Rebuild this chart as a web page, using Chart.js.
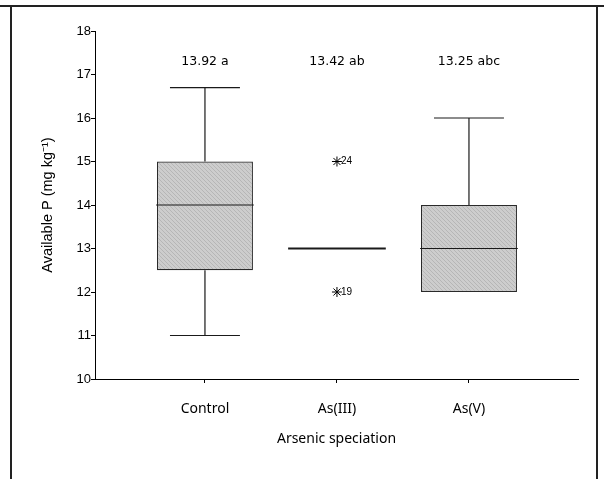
<!DOCTYPE html>
<html>
<head>
<meta charset="utf-8">
<script src="https://cdn.jsdelivr.net/npm/chart.js@4/dist/chart.umd.min.js"></script>
<style>
  html, body { margin: 0; padding: 0; background: #fff; }
  #wrap { position: relative; width: 604px; height: 479px; }
</style>
</head>
<body>
<div id="wrap"><canvas id="c" width="604" height="479"></canvas></div>
<script>
// ---- data ----
const categories = ['Control', 'As(III)', 'As(V)'];
const q1 = [12.5, 13, 12];
const q3 = [15, 13, 14];
const medians = [14, 13, 13];
const whiskerLow = [11, 13, 12];
const whiskerHigh = [16.7, 13, 16];
const outlierValues = [[], [15, 12], []];
const outlierIds = [[], ['24', '19'], []];
const meanLabels = ['13.92 a', '13.42 ab', '13.25 abc'];
const yTickValues = [10, 11, 12, 13, 14, 15, 16, 17, 18];

// ---- styles ----
const boxHalf = 0.37;
const capHalf = 0.265;
const lineColor = '#1a1a1a';

function makePattern() {
  const p = document.createElement('canvas');
  p.width = 4; p.height = 4;
  const g = p.getContext('2d');
  g.fillStyle = '#cdcdcd';
  g.fillRect(0, 0, 4, 4);
  g.fillStyle = '#b6b6b6';
  for (let i = 0; i < 4; i++) g.fillRect(i, i, 1, 1);
  return g.createPattern(p, 'repeat');
}
const ctx0 = document.getElementById('c').getContext('2d');
const hatch = makePattern();

const datasets = [];
datasets.push({
  type: 'bar',
  data: categories.map((c, i) => ({ x: i, y: [q1[i], q3[i]] })),
  backgroundColor: hatch,
  borderColor: '#2a2a2a',
  borderWidth: 1.2,
  borderSkipped: false,
  categoryPercentage: 1,
  barPercentage: 0.727,
  order: 2
});
function seg(pts, width) {
  datasets.push({
    type: 'line', data: pts, borderColor: lineColor, borderWidth: width || 1.2,
    pointRadius: 0, fill: false, tension: 0, order: 1
  });
}
categories.forEach((c, i) => {
  if (whiskerHigh[i] > q3[i]) {
    seg([{ x: i, y: q3[i] }, { x: i, y: whiskerHigh[i] }]);
    seg([{ x: i - capHalf, y: whiskerHigh[i] }, { x: i + capHalf, y: whiskerHigh[i] }]);
  }
  if (whiskerLow[i] < q1[i]) {
    seg([{ x: i, y: q1[i] }, { x: i, y: whiskerLow[i] }]);
    seg([{ x: i - capHalf, y: whiskerLow[i] }, { x: i + capHalf, y: whiskerLow[i] }]);
  }
  const degenerate = q1[i] === q3[i];
  seg([{ x: i - boxHalf, y: medians[i] }, { x: i + boxHalf, y: medians[i] }], degenerate ? 2.2 : 1.2);
});
const outlierPts = [];
categories.forEach((c, i) => outlierValues[i].forEach((v, k) => outlierPts.push({ x: i, y: v, id: outlierIds[i][k] })));
datasets.push({
  type: 'scatter', data: outlierPts, pointStyle: 'star', pointRadius: 5,
  borderColor: '#000', borderWidth: 1, backgroundColor: '#000', order: 0
});

const annot = {
  id: 'annot',
  afterDatasetsDraw(chart) {
    const { ctx, chartArea, scales } = chart;
    ctx.save();
    ctx.fillStyle = '#000';
    ctx.font = '12.5px "DejaVu Sans"';
    ctx.textAlign = 'center';
    ctx.textBaseline = 'middle';
    meanLabels.forEach((t, i) => ctx.fillText(t, scales.x.getPixelForValue(i), chartArea.top + 31));
    ctx.font = '10px "Liberation Sans"';
    ctx.textAlign = 'left';
    outlierPts.forEach(p => ctx.fillText(p.id, scales.x.getPixelForValue(p.x) + 4, scales.y.getPixelForValue(p.y)));
    ctx.restore();
  },
  afterDraw(chart) {
    const { ctx, width, height } = chart;
    ctx.save();
    ctx.strokeStyle = '#222';
    ctx.lineWidth = 2;
    ctx.beginPath();
    ctx.moveTo(0, 6); ctx.lineTo(width, 6);
    ctx.moveTo(11, 5); ctx.lineTo(11, height);
    ctx.moveTo(597, 5); ctx.lineTo(597, height);
    ctx.stroke();
    ctx.restore();
  }
};

new Chart(ctx0, {
  data: { datasets },
  options: {
    responsive: false,
    animation: false,
    plugins: { legend: { display: false }, tooltip: { enabled: false } },
    layout: { padding: { top: 31, right: 26, left: 0, bottom: 0 } },
    scales: {
      x: {
        type: 'linear',
        offset: false,
        min: -0.833, max: 2.826,
        afterBuildTicks: s => { s.ticks = categories.map((c, i) => ({ value: i })); },
        afterFit: s => { s.height = 100; },
        ticks: {
          callback: v => categories[v],
          color: '#000',
          font: { family: '"Noto Sans"', size: 14 },
          padding: 18,
          maxRotation: 0
        },
        grid: { offset: false, drawOnChartArea: false, drawTicks: true, tickLength: 4, color: '#000' },
        border: { color: '#000', width: 1 },
        title: {
          display: true, text: 'Arsenic speciation', color: '#000',
          font: { family: '"Noto Sans"', size: 14 }, padding: { top: 4, bottom: 32 }
        }
      },
      y: {
        min: 10, max: 18,
        afterBuildTicks: s => { s.ticks = yTickValues.map(v => ({ value: v })); },
        afterFit: s => { s.width = 95; },
        ticks: { color: '#000', font: { family: '"Liberation Sans"', size: 13 }, padding: 0 },
        grid: { drawOnChartArea: false, drawTicks: true, tickLength: 4, color: '#000' },
        border: { color: '#000', width: 1 },
        title: {
          display: true, text: 'Available P (mg kg\u207B\u00B9)', color: '#000',
          font: { family: '"Liberation Sans"', size: 14.5 }, padding: { top: 39, bottom: 0 }
        }
      }
    }
  },
  plugins: [annot]
});
</script>
</body>
</html>
